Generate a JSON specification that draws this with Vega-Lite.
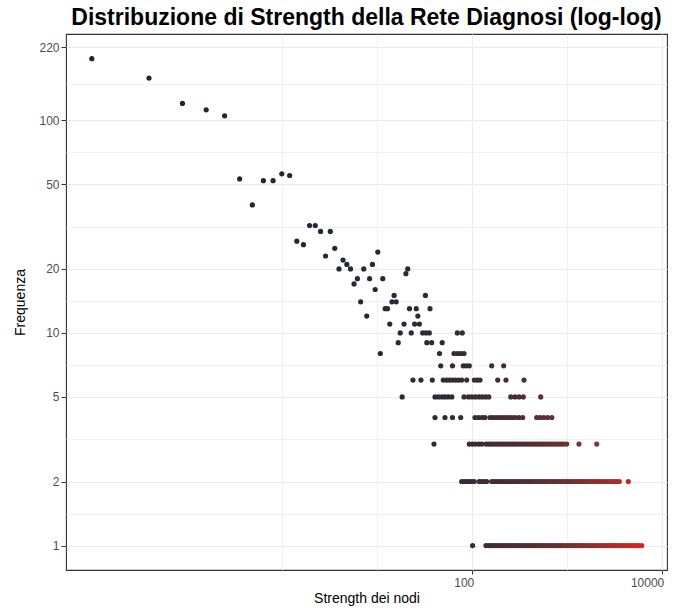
{
  "$schema": "https://vega.github.io/schema/vega-lite/v6.json",
  "autosize": {"type": "none"},
  "padding": {"left": 66, "top": 34, "right": 8, "bottom": 40},
  "width": 601,
  "height": 536,
  "background": "white",
  "title": {
    "text": "Distribuzione di Strength della Rete Diagnosi (log-log)",
    "font": "Liberation Sans",
    "fontSize": 23,
    "fontWeight": "bold",
    "color": "#000000",
    "anchor": "middle",
    "baseline": "bottom",
    "offset": 3,
    "dy": 22
  },
  "config": {
    "font": "Liberation Sans",
    "view": {"stroke": "#333333", "strokeWidth": 1.1},
    "axis": {
      "domain": false,
      "labelColor": "#4d4d4d",
      "labelFontSize": 12,
      "labelOverlap": false,
      "labelFlush": false,
      "titleFontSize": 14,
      "titleFontWeight": "normal",
      "titleColor": "#000000",
      "tickColor": "#333333",
      "gridColor": "#ebebeb"
    }
  },
  "data": {
    "values": [
      {"strength": 0.01, "freq": 195}, {"strength": 0.04, "freq": 158}, {"strength": 0.09, "freq": 120},
      {"strength": 0.16, "freq": 112}, {"strength": 0.25, "freq": 105}, {"strength": 0.36, "freq": 53},
      {"strength": 0.49, "freq": 40}, {"strength": 0.64, "freq": 52}, {"strength": 0.81, "freq": 52},
      {"strength": 1.0, "freq": 56}, {"strength": 1.21, "freq": 55}, {"strength": 1.44, "freq": 27},
      {"strength": 1.69, "freq": 26}, {"strength": 1.96, "freq": 32}, {"strength": 2.25, "freq": 32},
      {"strength": 2.56, "freq": 30}, {"strength": 2.89, "freq": 23}, {"strength": 3.24, "freq": 30},
      {"strength": 3.61, "freq": 25}, {"strength": 4.0, "freq": 20}, {"strength": 4.41, "freq": 22},
      {"strength": 4.84, "freq": 21}, {"strength": 5.29, "freq": 20}, {"strength": 5.76, "freq": 17},
      {"strength": 6.25, "freq": 18}, {"strength": 6.76, "freq": 14}, {"strength": 7.29, "freq": 20},
      {"strength": 7.84, "freq": 12}, {"strength": 8.41, "freq": 18}, {"strength": 9.0, "freq": 21},
      {"strength": 9.61, "freq": 16}, {"strength": 10.24, "freq": 24}, {"strength": 10.89, "freq": 8},
      {"strength": 11.56, "freq": 18}, {"strength": 12.25, "freq": 13}, {"strength": 12.96, "freq": 13},
      {"strength": 13.69, "freq": 11}, {"strength": 14.44, "freq": 14}, {"strength": 15.21, "freq": 15},
      {"strength": 16.0, "freq": 14}, {"strength": 16.81, "freq": 9}, {"strength": 17.64, "freq": 10},
      {"strength": 18.49, "freq": 5}, {"strength": 19.36, "freq": 11}, {"strength": 20.25, "freq": 19},
      {"strength": 21.16, "freq": 20}, {"strength": 22.09, "freq": 13}, {"strength": 23.04, "freq": 10},
      {"strength": 24.01, "freq": 6}, {"strength": 25.0, "freq": 11}, {"strength": 26.01, "freq": 13},
      {"strength": 27.04, "freq": 12}, {"strength": 28.09, "freq": 11}, {"strength": 29.16, "freq": 6},

      {"strength": 32.5, "freq": 15}, {"strength": 36.3, "freq": 13},

      {"strength": 30.4, "freq": 10}, {"strength": 33.0, "freq": 10}, {"strength": 35.7, "freq": 10},
      {"strength": 70.4, "freq": 10}, {"strength": 79.4, "freq": 10},

      {"strength": 33.6, "freq": 9}, {"strength": 37.8, "freq": 9}, {"strength": 48.8, "freq": 9},

      {"strength": 45.7, "freq": 8}, {"strength": 65.0, "freq": 8}, {"strength": 70.7, "freq": 8},
      {"strength": 76.9, "freq": 8}, {"strength": 82.8, "freq": 8},

      {"strength": 47.1, "freq": 7}, {"strength": 62.6, "freq": 7}, {"strength": 81.3, "freq": 7},
      {"strength": 87.3, "freq": 7}, {"strength": 94.1, "freq": 7}, {"strength": 162, "freq": 7},
      {"strength": 216.7, "freq": 7},

      {"strength": 38.4, "freq": 6}, {"strength": 50.1, "freq": 6}, {"strength": 54.2, "freq": 6},
      {"strength": 58.3, "freq": 6}, {"strength": 62.4, "freq": 6}, {"strength": 67.4, "freq": 6},
      {"strength": 72.5, "freq": 6}, {"strength": 78.3, "freq": 6}, {"strength": 88.4, "freq": 6},
      {"strength": 106.3, "freq": 6}, {"strength": 114, "freq": 6}, {"strength": 122, "freq": 6},
      {"strength": 187.4, "freq": 6}, {"strength": 229.1, "freq": 6}, {"strength": 354.5, "freq": 6},

      {"strength": 41.0, "freq": 5}, {"strength": 44.6, "freq": 5}, {"strength": 48.6, "freq": 5},
      {"strength": 52.2, "freq": 5}, {"strength": 56.4, "freq": 5}, {"strength": 61.6, "freq": 5},
      {"strength": 82.8, "freq": 5}, {"strength": 92.4, "freq": 5}, {"strength": 100.5, "freq": 5},
      {"strength": 109.2, "freq": 5}, {"strength": 119, "freq": 5}, {"strength": 128.7, "freq": 5},
      {"strength": 139.4, "freq": 5}, {"strength": 150.9, "freq": 5}, {"strength": 256.8, "freq": 5},
      {"strength": 284.4, "freq": 5}, {"strength": 314, "freq": 5}, {"strength": 348.5, "freq": 5},
      {"strength": 531.3, "freq": 5},

      {"strength": 41.0, "freq": 4}, {"strength": 52.2, "freq": 4}, {"strength": 62.6, "freq": 4},
      {"strength": 76.4, "freq": 4}, {"strength": 108, "freq": 4}, {"strength": 117.6, "freq": 4},
      {"strength": 128.1, "freq": 4}, {"strength": 137.7, "freq": 4}, {"strength": 155.5, "freq": 4},
      {"strength": 167.2, "freq": 4}, {"strength": 180.5, "freq": 4}, {"strength": 194.8, "freq": 4},
      {"strength": 210.5, "freq": 4}, {"strength": 226.4, "freq": 4}, {"strength": 243.4, "freq": 4},
      {"strength": 263.6, "freq": 4}, {"strength": 285, "freq": 4}, {"strength": 313.1, "freq": 4},
      {"strength": 343.5, "freq": 4}, {"strength": 482.3, "freq": 4}, {"strength": 522.4, "freq": 4},
      {"strength": 571.3, "freq": 4}, {"strength": 627.2, "freq": 4}, {"strength": 695, "freq": 4},

      {"strength": 40.0, "freq": 3}, {"strength": 94.1, "freq": 3}, {"strength": 101.7, "freq": 3},
      {"strength": 109.2, "freq": 3}, {"strength": 118.2, "freq": 3}, {"strength": 127.1, "freq": 3},
      {"strength": 141.1, "freq": 3}, {"strength": 150, "freq": 3}, {"strength": 159.3, "freq": 3},
      {"strength": 169.2, "freq": 3}, {"strength": 179.8, "freq": 3}, {"strength": 191.1, "freq": 3},
      {"strength": 203, "freq": 3}, {"strength": 215.6, "freq": 3}, {"strength": 229.1, "freq": 3},
      {"strength": 243.5, "freq": 3}, {"strength": 258.6, "freq": 3}, {"strength": 274.7, "freq": 3},
      {"strength": 292, "freq": 3}, {"strength": 310.3, "freq": 3}, {"strength": 329.6, "freq": 3},
      {"strength": 350.2, "freq": 3}, {"strength": 372.1, "freq": 3}, {"strength": 395.4, "freq": 3},
      {"strength": 420, "freq": 3}, {"strength": 446.1, "freq": 3}, {"strength": 474.2, "freq": 3},
      {"strength": 503.9, "freq": 3}, {"strength": 535.2, "freq": 3}, {"strength": 568.6, "freq": 3},
      {"strength": 604.2, "freq": 3}, {"strength": 642.1, "freq": 3}, {"strength": 682.1, "freq": 3},
      {"strength": 724.4, "freq": 3}, {"strength": 770, "freq": 3}, {"strength": 818.2, "freq": 3},
      {"strength": 869, "freq": 3}, {"strength": 923.3, "freq": 3}, {"strength": 998, "freq": 3},
      {"strength": 1344, "freq": 3}, {"strength": 2064, "freq": 3},

      {"strength": 78.3, "freq": 2}, {"strength": 83.2, "freq": 2}, {"strength": 88.4, "freq": 2},
      {"strength": 93.9, "freq": 2}, {"strength": 99.9, "freq": 2}, {"strength": 106, "freq": 2},
      {"strength": 119.6, "freq": 2}, {"strength": 127.1, "freq": 2}, {"strength": 135.1, "freq": 2},
      {"strength": 143.5, "freq": 2}, {"strength": 162, "freq": 2}, {"strength": 172.1, "freq": 2},
      {"strength": 182.9, "freq": 2}, {"strength": 194.3, "freq": 2}, {"strength": 206.4, "freq": 2},
      {"strength": 219.4, "freq": 2}, {"strength": 233.1, "freq": 2}, {"strength": 247.6, "freq": 2},
      {"strength": 263.6, "freq": 2}, {"strength": 279.5, "freq": 2}, {"strength": 297, "freq": 2},
      {"strength": 315.6, "freq": 2}, {"strength": 335.2, "freq": 2}, {"strength": 356.3, "freq": 2},
      {"strength": 378.5, "freq": 2}, {"strength": 402, "freq": 2}, {"strength": 427.2, "freq": 2},
      {"strength": 453.9, "freq": 2}, {"strength": 482.3, "freq": 2}, {"strength": 512.5, "freq": 2},
      {"strength": 544.4, "freq": 2}, {"strength": 578.6, "freq": 2}, {"strength": 614.6, "freq": 2},
      {"strength": 652.8, "freq": 2}, {"strength": 693.7, "freq": 2}, {"strength": 737.1, "freq": 2},
      {"strength": 783.2, "freq": 2}, {"strength": 832.1, "freq": 2}, {"strength": 883.9, "freq": 2},
      {"strength": 939.4, "freq": 2}, {"strength": 998, "freq": 2}, {"strength": 1060, "freq": 2},
      {"strength": 1128, "freq": 2}, {"strength": 1197, "freq": 2}, {"strength": 1272, "freq": 2},
      {"strength": 1351, "freq": 2}, {"strength": 1435, "freq": 2}, {"strength": 1525, "freq": 2},
      {"strength": 1620, "freq": 2}, {"strength": 1721, "freq": 2}, {"strength": 1832, "freq": 2},
      {"strength": 1943, "freq": 2}, {"strength": 2065, "freq": 2}, {"strength": 2194, "freq": 2},
      {"strength": 2330, "freq": 2}, {"strength": 2476, "freq": 2}, {"strength": 2631, "freq": 2},
      {"strength": 2794, "freq": 2}, {"strength": 2975, "freq": 2}, {"strength": 3155, "freq": 2},
      {"strength": 3352, "freq": 2}, {"strength": 3570, "freq": 2}, {"strength": 4441, "freq": 2},

      {"strength": 102, "freq": 1}, {"strength": 141.1, "freq": 1}, {"strength": 150, "freq": 1},
      {"strength": 159.3, "freq": 1}, {"strength": 169.2, "freq": 1}, {"strength": 179.8, "freq": 1},
      {"strength": 191.1, "freq": 1}, {"strength": 203, "freq": 1}, {"strength": 215.6, "freq": 1},
      {"strength": 229.1, "freq": 1}, {"strength": 243.5, "freq": 1}, {"strength": 258.6, "freq": 1},
      {"strength": 274.7, "freq": 1}, {"strength": 292, "freq": 1}, {"strength": 310.3, "freq": 1},
      {"strength": 329.6, "freq": 1}, {"strength": 350.2, "freq": 1}, {"strength": 372.1, "freq": 1},
      {"strength": 395.4, "freq": 1}, {"strength": 420, "freq": 1}, {"strength": 446.1, "freq": 1},
      {"strength": 474.2, "freq": 1}, {"strength": 503.9, "freq": 1}, {"strength": 535.2, "freq": 1},
      {"strength": 568.6, "freq": 1}, {"strength": 604.2, "freq": 1}, {"strength": 642.1, "freq": 1},
      {"strength": 682.1, "freq": 1}, {"strength": 724.4, "freq": 1}, {"strength": 770, "freq": 1},
      {"strength": 818.2, "freq": 1}, {"strength": 869, "freq": 1}, {"strength": 923.3, "freq": 1},
      {"strength": 981, "freq": 1}, {"strength": 1042, "freq": 1}, {"strength": 1107, "freq": 1},
      {"strength": 1176, "freq": 1}, {"strength": 1250, "freq": 1}, {"strength": 1328, "freq": 1},
      {"strength": 1411, "freq": 1}, {"strength": 1499, "freq": 1}, {"strength": 1593, "freq": 1},
      {"strength": 1692, "freq": 1}, {"strength": 1798, "freq": 1}, {"strength": 1910, "freq": 1},
      {"strength": 2029, "freq": 1}, {"strength": 2156, "freq": 1}, {"strength": 2291, "freq": 1},
      {"strength": 2434, "freq": 1}, {"strength": 2586, "freq": 1}, {"strength": 2747, "freq": 1},
      {"strength": 2919, "freq": 1}, {"strength": 3101, "freq": 1}, {"strength": 3295, "freq": 1},
      {"strength": 3501, "freq": 1}, {"strength": 3720, "freq": 1}, {"strength": 3952, "freq": 1},
      {"strength": 4199, "freq": 1}, {"strength": 4461, "freq": 1}, {"strength": 4740, "freq": 1},
      {"strength": 5036, "freq": 1}, {"strength": 5350, "freq": 1}, {"strength": 5685, "freq": 1},
      {"strength": 6144, "freq": 1}
    ]
  },
  "mark": {"type": "circle", "size": 27, "opacity": 1},
  "encoding": {
    "x": {
      "field": "strength",
      "type": "quantitative",
      "scale": {"type": "log", "domain": [0.005352, 11342], "nice": false},
      "axis": {
        "title": "Strength dei nodi",
        "titlePadding": 3,
        "values": [1, 10, 100, 1000, 10000],
        "labelExpr": "datum.value == 100 || datum.value == 10000 ? format(datum.value, 'd') : ''",
        "labelAlign": "right",
        "labelOffset": 2,
        "labelPadding": 3,
        "tickSize": 4,
        "tickOpacity": {"condition": {"test": "datum.value == 100 || datum.value == 10000", "value": 1}, "value": 0},
        "gridWidth": {"condition": {"test": "datum.value == 100 || datum.value == 10000", "value": 1.2}, "value": 0.7}
      }
    },
    "y": {
      "field": "freq",
      "type": "quantitative",
      "scale": {"type": "log", "domain": [0.7672, 254.6], "nice": false},
      "axis": {
        "title": "Frequenza",
        "titlePadding": 11,
        "values": [1, 1.414, 2, 3.162, 5, 7.071, 10, 14.14, 20, 31.62, 50, 70.71, 100, 148.3, 220],
        "labelExpr": "indexof([1, 2, 5, 10, 20, 50, 100, 220], datum.value) >= 0 ? format(datum.value, 'd') : ''",
        "labelPadding": 2,
        "tickSize": 5,
        "tickOpacity": {"condition": {"test": "indexof([1, 2, 5, 10, 20, 50, 100, 220], datum.value) >= 0", "value": 1}, "value": 0},
        "gridWidth": {"condition": {"test": "indexof([1, 2, 5, 10, 20, 50, 100, 220], datum.value) >= 0", "value": 1.2}, "value": 0.7}
      }
    },
    "color": {
      "field": "strength",
      "type": "quantitative",
      "scale": {"type": "sqrt", "zero": false, "range": ["#1d2738", "#e01e1e"], "interpolate": "lab"},
      "legend": null
    }
  }
}
